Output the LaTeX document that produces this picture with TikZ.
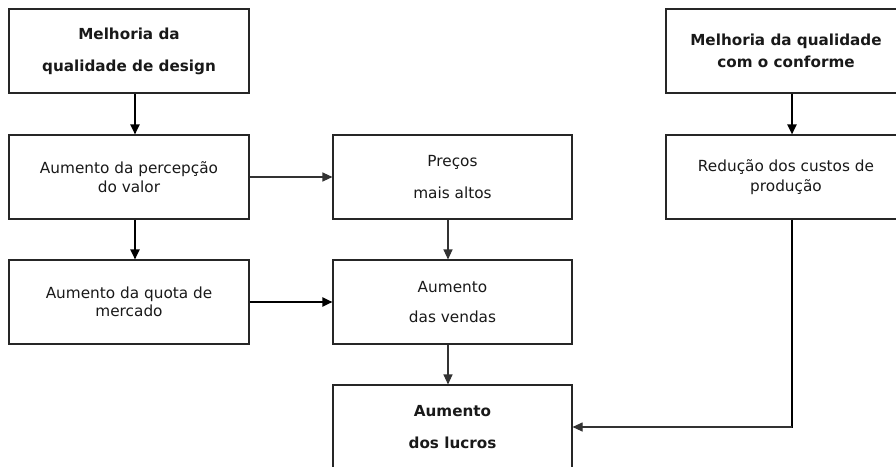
\documentclass[tikz,border=0pt]{standalone}
\usepackage{fontspec}
\setmainfont{DejaVu Sans}
\usetikzlibrary{arrows.meta}
\tikzset{
  box/.style={draw=black!85, line width=1.1pt, minimum width=240pt, minimum height=84pt,
    inner sep=0pt, align=center, text=black!90},
  lbl/.style={font=\fontsize{15.3}{#1}\selectfont},
  blbl/.style={font=\fontsize{15.2}{#1}\selectfont\bfseries},
  thin/.style={line width=1.1pt, draw=black!80, -{Triangle[length=10pt,width=9pt]}},
  thick/.style={line width=2pt, draw=black, -{Triangle[length=10pt,width=9pt]}},
}
\begin{document}
\begin{tikzpicture}[x=1pt,y=-1pt]
\useasboundingbox (0,0) rectangle (896,466);
\fill[white] (0,0) rectangle (896,466);
\clip (0,0) rectangle (896,466);

% left column
\node[box, blbl=32] (design) at (129,51) {Melhoria da\\qualidade de design};
\node[box, lbl=19] (valor) at (129,177) {Aumento da percepção\\do valor};
\node[box, lbl=18] (quota) at (129,302) {Aumento da quota de\\mercado};

% middle column
\node[box, lbl=32, minimum width=239pt] (precos) at (452.5,177) {Preços\\mais altos};
\node[box, lbl=30, minimum width=239pt] (vendas) at (452.5,302) {Aumento\\das vendas};
\node[box, blbl=32, minimum width=239pt] (lucros) at (452.5,427) {Aumento\\dos lucros};

% right column
\node[box, blbl=22] (conforme) at (786,51) {Melhoria da qualidade\\com o conforme};
\node[box, lbl=20] (custos) at (786,177) {Redução dos custos de\\produção};

% connectors
\draw[thick] ([xshift=6pt]design.south) -- ([xshift=6pt]valor.north);
\draw[thick] ([xshift=6pt]valor.south) -- ([xshift=6pt]quota.north);
\draw[thin] (valor.east) -- (precos.west);
\draw[thick] (quota.east) -- (vendas.west);
\draw[thin] ([xshift=-4.5pt]precos.south) -- ([xshift=-4.5pt]vendas.north);
\draw[thin] ([xshift=-4.5pt]vendas.south) -- ([xshift=-4.5pt]lucros.north);
\draw[thick] ([xshift=6pt]conforme.south) -- ([xshift=6pt]custos.north);
\coordinate (corner) at ([xshift=6pt]custos.south |- lucros.east);
\draw[line width=2pt] ([xshift=6pt]custos.south) -- ([yshift=-1pt]corner);
\draw[thin] (corner) -- (lucros.east);
\end{tikzpicture}
\end{document}
